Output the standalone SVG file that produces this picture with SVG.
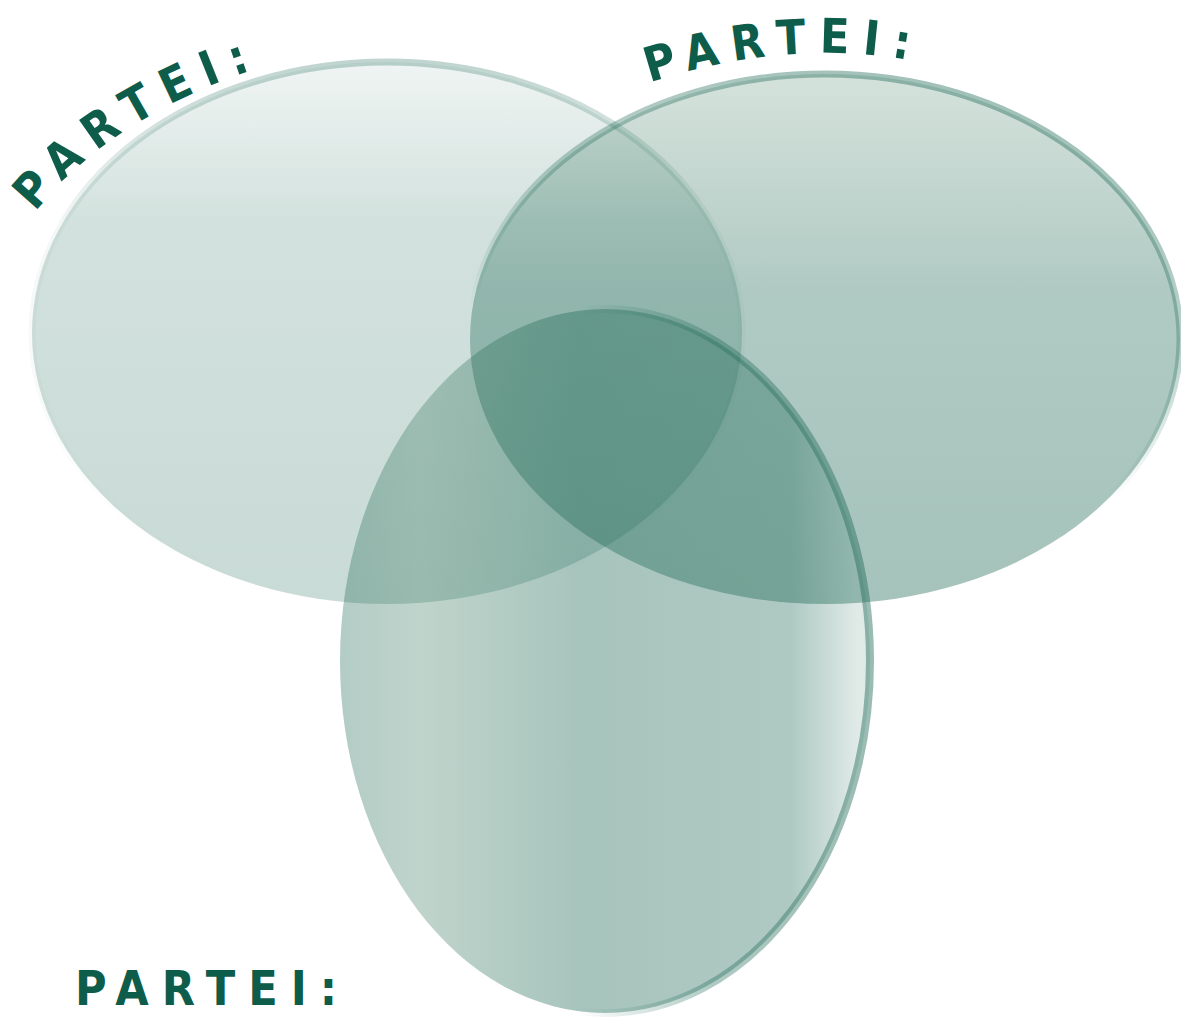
<svg xmlns="http://www.w3.org/2000/svg" xmlns:xlink="http://www.w3.org/1999/xlink" width="1181" height="1020" viewBox="0 0 1181 1020">
  <style>
    .lbl { font-family: "DejaVu Sans Condensed", "Liberation Sans Narrow", "Liberation Sans", sans-serif; font-weight: bold; font-size: 48px; fill: #0e5c4a; letter-spacing: 13px; }
  </style>
  <defs>
    <linearGradient id="gLeft" x1="0" y1="0" x2="0" y2="1">
      <stop offset="0" stop-color="#1e6955" stop-opacity="0.07"/>
      <stop offset="0.3" stop-color="#1e6955" stop-opacity="0.2"/>
      <stop offset="1" stop-color="#1e6955" stop-opacity="0.24"/>
    </linearGradient>
    <linearGradient id="gRight" x1="0" y1="0" x2="0" y2="1">
      <stop offset="0" stop-color="#2c6e50" stop-opacity="0.2"/>
      <stop offset="0.4" stop-color="#1e6955" stop-opacity="0.35"/>
      <stop offset="1" stop-color="#1e6955" stop-opacity="0.4"/>
    </linearGradient>
    <linearGradient id="gBottom" x1="0" y1="0" x2="1" y2="0">
      <stop offset="0" stop-color="#1e6955" stop-opacity="0.34"/>
      <stop offset="0.15" stop-color="#2a6e52" stop-opacity="0.3"/>
      <stop offset="0.45" stop-color="#1e6955" stop-opacity="0.39"/>
      <stop offset="0.85" stop-color="#1e6955" stop-opacity="0.36"/>
      <stop offset="0.975" stop-color="#1e6955" stop-opacity="0.14"/>
      <stop offset="1" stop-color="#1e6955" stop-opacity="0.14"/>
    </linearGradient>
    <linearGradient id="rLeft" x1="0" y1="0" x2="0" y2="1">
      <stop offset="0" stop-color="#1e6955" stop-opacity="0.28"/>
      <stop offset="0.3" stop-color="#1e6955" stop-opacity="0.05"/>
      <stop offset="1" stop-color="#1e6955" stop-opacity="0"/>
    </linearGradient>
    <linearGradient id="rRight" x1="0.35" y1="0.75" x2="0.65" y2="0">
      <stop offset="0.2" stop-color="#1e6955" stop-opacity="0"/>
      <stop offset="0.55" stop-color="#1e6955" stop-opacity="0.3"/>
      <stop offset="1" stop-color="#1e6955" stop-opacity="0.42"/>
    </linearGradient>
    <linearGradient id="rBottom" x1="0" y1="0" x2="1" y2="0">
      <stop offset="0.45" stop-color="#1e6955" stop-opacity="0"/>
      <stop offset="0.7" stop-color="#1e6955" stop-opacity="0.35"/>
      <stop offset="1" stop-color="#1e6955" stop-opacity="0.45"/>
    </linearGradient>
    <path id="arcLeft" d="M 28 222 Q 108 112 283 60"/>
    <path id="arcRight" d="M 640 86 Q 790 34 930 64"/>
  </defs>
  <rect width="1181" height="1020" fill="#ffffff"/>

  <g id="set-left">
    <ellipse cx="387" cy="333" rx="355" ry="271" fill="url(#gLeft)" stroke="url(#rLeft)" stroke-width="7"/>
  </g>
  <g id="set-right">
    <ellipse cx="825" cy="339" rx="355" ry="265" fill="url(#gRight)" stroke="url(#rRight)" stroke-width="7"/>
  </g>
  <g id="set-bottom">
    <ellipse cx="605" cy="661" rx="265" ry="352" fill="url(#gBottom)" stroke="url(#rBottom)" stroke-width="8"/>
  </g>

  <g id="connectors"/>

  <g id="labels">
    <text class="lbl"><textPath xlink:href="#arcLeft" href="#arcLeft" startOffset="12">PARTEI:</textPath></text>
    <text class="lbl"><textPath xlink:href="#arcRight" href="#arcRight" startOffset="10">PARTEI:</textPath></text>
    <text class="lbl" x="75" y="1005">PARTEI:</text>
  </g>
</svg>
